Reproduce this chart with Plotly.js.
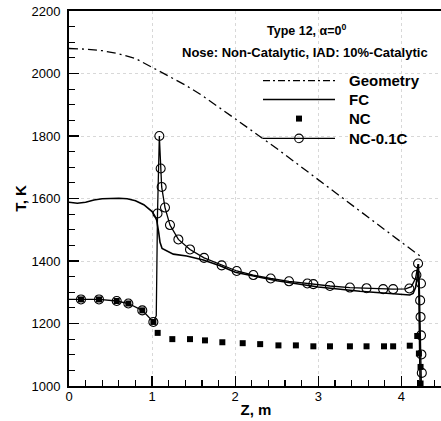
<!DOCTYPE html>
<html>
<head>
<meta charset="utf-8">
<script src="https://cdn.plot.ly/plotly-3.0.1.min.js"></script>
<style>
html,body{margin:0;padding:0;overflow:hidden;background:#fff;}
#chart{width:445px;height:421px;}
</style>
</head>
<body>
<div id="chart"></div>
<script>
// ---- data ----
// Geometry (dash-dot)
const geomZ = [0, 0.2, 0.4, 0.6, 0.8, 1.0, 1.2, 1.4, 1.6, 1.8, 2.0, 2.5, 3.0, 3.5, 4.0, 4.24];
const geomT = [2080, 2078, 2073, 2063, 2048, 2020, 1993, 1963, 1930, 1893, 1855, 1760, 1660, 1558, 1460, 1413];

// FC (solid line)
const fcZ = [0, 0.1, 0.2, 0.3, 0.4, 0.5, 0.6, 0.7, 0.8, 0.9, 0.95, 1.0, 1.03, 1.055, 1.08, 1.095, 1.12, 1.2, 1.255, 1.416, 1.616, 1.817, 2.0, 2.5, 3.0, 3.5, 4.0, 4.1, 4.14, 4.17, 4.19, 4.205, 4.225];
const fcT = [1588, 1585, 1588, 1595, 1599, 1600, 1601, 1599, 1593, 1580, 1570, 1558, 1545, 1531, 1490, 1460, 1440, 1428, 1422, 1416, 1403, 1385, 1364, 1337, 1317, 1303, 1293, 1291, 1296, 1315, 1350, 1390, 1000];

// NC (filled squares)
const ncZ = [0.144, 0.361, 0.574, 0.714, 0.882, 1.015, 1.067, 1.243, 1.456, 1.636, 1.845, 2.09, 2.30, 2.52, 2.73, 2.94, 3.14, 3.38, 3.58, 3.79, 3.90, 4.10, 4.19, 4.21, 4.23, 4.23];
const ncT = [1277, 1277, 1272, 1264, 1242, 1205, 1170, 1150, 1150, 1146, 1140, 1137, 1134, 1130, 1130, 1127, 1127, 1127, 1127, 1127, 1127, 1129, 1160, 1104, 1061, 1008];

// NC-0.1C (line)
const nc01LineZ = [0, 0.144, 0.361, 0.574, 0.714, 0.882, 1.015, 1.05, 1.065, 1.087, 1.103, 1.115, 1.155, 1.215, 1.316, 1.456, 1.625, 1.837, 2.018, 2.218, 2.427, 2.647, 2.868, 3.14, 3.38, 3.58, 3.78, 3.90, 4.05, 4.12, 4.17, 4.20, 4.215, 4.235, 4.24];
const nc01LineT = [1277, 1277, 1277, 1272, 1264, 1242, 1205, 1225, 1552, 1800, 1696, 1637, 1571, 1515, 1469, 1437, 1410, 1386, 1368, 1355, 1344, 1335, 1328, 1320, 1315, 1313, 1310, 1310, 1311, 1318, 1345, 1390, 1328, 1101, 1000];

// NC-0.1C (open circle markers)
const nc01MarkZ = [0.144, 0.361, 0.574, 0.714, 0.882, 1.015, 1.065, 1.087, 1.103, 1.115, 1.155, 1.215, 1.316, 1.456, 1.625, 1.837, 2.018, 2.218, 2.427, 2.647, 2.868, 2.94, 3.14, 3.38, 3.58, 3.78, 3.90, 4.095, 4.18, 4.20, 4.235, 4.225, 4.23, 4.235, 4.24, 4.245];
const nc01MarkT = [1277, 1277, 1272, 1264, 1242, 1205, 1552, 1800, 1696, 1637, 1571, 1515, 1469, 1437, 1410, 1386, 1368, 1355, 1344, 1335, 1328, 1326, 1320, 1315, 1313, 1310, 1310, 1312, 1355, 1392, 1328, 1274, 1221, 1162, 1101, 1042];

const legendNames = ["Geometry", "FC", "NC", "NC-0.1C"];
const titleLine1 = "Type 12, α=0<sup>0</sup>";
const titleLine2 = "Nose: Non-Catalytic, IAD: 10%-Catalytic";
const xTitle = "Z, m";
const yTitle = "T, K";

// ---- layout helpers (pixel -> paper) ----
const L = 69, T0 = 11, PW = 374, PH = 374.7;
const px = x => (x - L) / PW;
const py = y => (T0 + PH - y) / PH;

const FONT = "Liberation Sans, Arial, Helvetica, sans-serif";

const traces = [
  {x: geomZ, y: geomT, mode: 'lines', name: legendNames[0],
   line: {color: '#000', width: 1.3, dash: '9px,4px,2px,4px'}},
  {x: fcZ, y: fcT, mode: 'lines', name: legendNames[1],
   line: {color: '#000', width: 1.6}},
  {x: nc01LineZ, y: nc01LineT, mode: 'lines', name: legendNames[3],
   line: {color: '#000', width: 1.3}},
  {x: nc01MarkZ, y: nc01MarkT, mode: 'markers', name: legendNames[3],
   marker: {symbol: 'circle-open', size: 9, color: '#000', line: {width: 1.1, color: '#000'}}},
  {x: ncZ, y: ncT, mode: 'markers', name: legendNames[2],
   marker: {symbol: 'square', size: 6, color: '#000'}}
];

// custom legend
const lx0 = 263, lx1 = 335, lmid = 299, ltext = 347;
const ly = [80.5, 99.5, 118.5, 138.3];
const shapes = [
  {type: 'line', xref: 'paper', yref: 'paper', x0: px(lx0), x1: px(lx1), y0: py(ly[0]), y1: py(ly[0]),
   line: {color: '#000', width: 1.3, dash: '7px,3px,2px,3px'}},
  {type: 'line', xref: 'paper', yref: 'paper', x0: px(lx0), x1: px(lx1), y0: py(ly[1]), y1: py(ly[1]),
   line: {color: '#000', width: 1.6}},
  {type: 'rect', xref: 'paper', yref: 'paper', xsizemode: 'pixel', ysizemode: 'pixel',
   xanchor: px(lmid), yanchor: py(ly[2]), x0: -3, x1: 3, y0: -3, y1: 3,
   fillcolor: '#000', line: {width: 0}},
  {type: 'line', xref: 'paper', yref: 'paper', x0: px(lx0), x1: px(lx1), y0: py(ly[3]), y1: py(ly[3]),
   line: {color: '#000', width: 1.3}},
  {type: 'circle', xref: 'paper', yref: 'paper', xsizemode: 'pixel', ysizemode: 'pixel',
   xanchor: px(lmid), yanchor: py(ly[3]), x0: -4.3, x1: 4.3, y0: -4.3, y1: 4.3,
   fillcolor: 'rgba(0,0,0,0)', line: {color: '#000', width: 1.1}}
];

const annotations = [
  {xref: 'paper', yref: 'paper', x: px(307), y: py(30), text: titleLine1, showarrow: false,
   xanchor: 'center', yanchor: 'middle', font: {family: FONT, size: 12.5, weight: 'bold', color: '#000'}},
  {xref: 'paper', yref: 'paper', x: px(305), y: py(52), text: titleLine2, showarrow: false,
   xanchor: 'center', yanchor: 'middle', font: {family: FONT, size: 13, weight: 'bold', color: '#000'}}
];
legendNames.forEach((n, i) => {
  annotations.push({xref: 'paper', yref: 'paper', x: px(ltext), y: py(ly[i]), text: n, showarrow: false,
    xanchor: 'left', yanchor: 'middle', font: {family: FONT, size: 15, weight: 'bold', color: '#000'}});
});

const layout = {
  width: 445, height: 421,
  margin: {l: L, r: 2, t: T0, b: 35.3, pad: 0},
  paper_bgcolor: '#fff', plot_bgcolor: '#fff',
  showlegend: false,
  font: {family: FONT, color: '#000', size: 13},
  xaxis: {
    range: [0, 4.5], dtick: 1, tick0: 0,
    showline: true, linecolor: '#000', linewidth: 2, mirror: true,
    ticks: 'inside', ticklen: 10, tickwidth: 1.3, tickcolor: '#000',
    minor: {dtick: 0.2, ticks: 'inside', ticklen: 6, tickwidth: 1.2, tickcolor: '#000', showgrid: false},
    showgrid: true, gridcolor: '#d8d8d8', griddash: 'dot', gridwidth: 1,
    zeroline: false,
    tickfont: {family: FONT, size: 13, color: '#000'},
    ticklabelstandoff: -3,
    title: {text: xTitle, font: {family: FONT, size: 15, weight: 'bold', color: '#000'}, standoff: 2},
    automargin: false
  },
  yaxis: {
    range: [1000, 2200], dtick: 200, tick0: 1000,
    showline: true, linecolor: '#000', linewidth: 2, mirror: false,
    ticks: 'inside', ticklen: 10, tickwidth: 1.3, tickcolor: '#000',
    minor: {dtick: 50, ticks: 'inside', ticklen: 6, tickwidth: 1.2, tickcolor: '#000', showgrid: false},
    showgrid: true, gridcolor: '#d8d8d8', griddash: 'dot', gridwidth: 1,
    zeroline: false,
    tickfont: {family: FONT, size: 13, color: '#000'},
    ticklabelstandoff: 4,
    title: {text: yTitle, font: {family: FONT, size: 15, weight: 'bold', color: '#000'}, standoff: 1},
    automargin: false
  },
  shapes: shapes,
  annotations: annotations
};

Plotly.newPlot('chart', traces, layout, {staticPlot: true, displayModeBar: false});
</script>
</body>
</html>
